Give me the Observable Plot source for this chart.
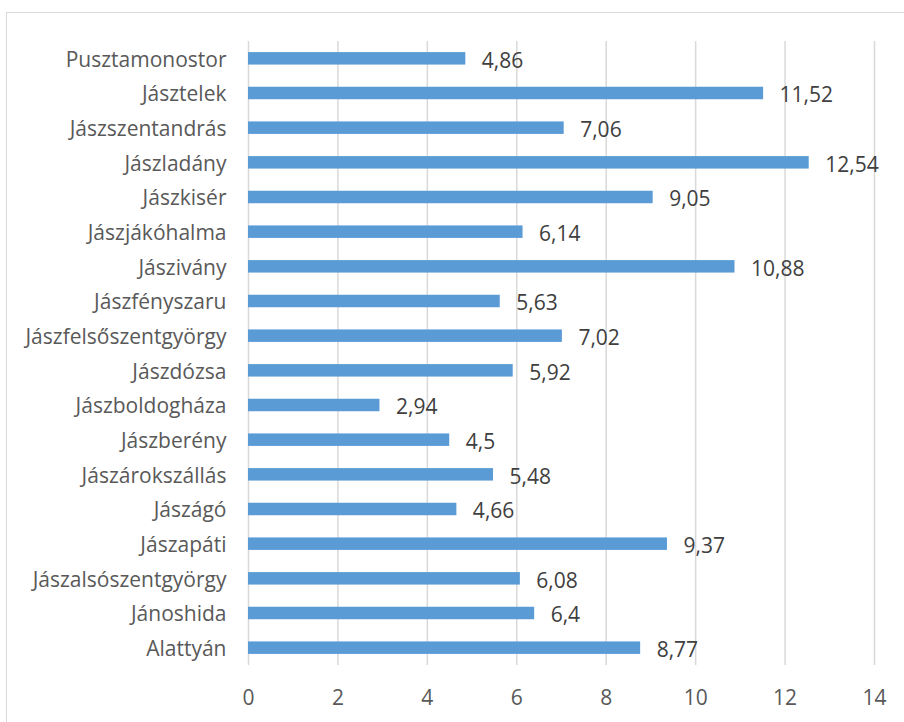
<!DOCTYPE html>
<html><head><meta charset="utf-8">
<script src="https://cdn.jsdelivr.net/npm/d3@7"></script>
<script src="https://cdn.jsdelivr.net/npm/@observablehq/plot@0.6"></script>
<style>
html,body{margin:0;padding:0;background:#fff;overflow:hidden;width:904px;height:722px;}
#wrap{position:relative;width:904px;height:722px;}
#frame{position:absolute;left:6px;top:12px;width:1000px;height:1000px;border:1px solid #d9d9d9;pointer-events:none;}
</style></head>
<body><div id="wrap"><div id="frame"></div></div>
<script>
const places = ["Pusztamonostor","Jásztelek","Jászszentandrás","Jászladány","Jászkisér","Jászjákóhalma","Jászivány","Jászfényszaru","Jászfelsőszentgyörgy","Jászdózsa","Jászboldogháza","Jászberény","Jászárokszállás","Jászágó","Jászapáti","Jászalsószentgyörgy","Jánoshida","Alattyán"];
const values = [4.86,11.52,7.06,12.54,9.05,6.14,10.88,5.63,7.02,5.92,2.94,4.5,5.48,4.66,9.37,6.08,6.4,8.77];
const xTicks = [0,2,4,6,8,10,12,14];
const data = places.map((p,i)=>({place:p, value:values[i]}));
const fmt = v => String(v).replace(".", ",");
const chart = Plot.plot({
  width: 904, height: 722,
  marginLeft: 248, marginRight: 30, marginTop: 41, marginBottom: 57,
  style: {fontFamily: "'Open Sans', sans-serif", fontSize: "21px", color: "#595959", background: "transparent"},
  x: {domain: [0,14], ticks: xTicks, tickSize: 0, tickPadding: 25, label: null, tickFormat: d => String(d)},
  y: {domain: places, paddingInner: 0.64, paddingOuter: 0.32, round: false, label: null},
  marks: [
    Plot.ruleX(xTicks, {stroke: "#d9d9d9", strokeWidth: 1.5}),
    Plot.barX(data, {y: "place", x: "value", fill: "#5B9BD5"}),
    Plot.axisY({tickSize: 0, tickPadding: 22, dy: 1, fontSize: 21, fill: "#595959", label: null}),
    Plot.text(data, {y: "place", x: "value", text: d => fmt(d.value), textAnchor: "start", dx: 16, dy: 2, fill: "#404040", fontSize: 21})
  ]
});
document.getElementById("wrap").prepend(chart);
chart.style.position = "absolute"; chart.style.left = "0"; chart.style.top = "0";
</script></body></html>
